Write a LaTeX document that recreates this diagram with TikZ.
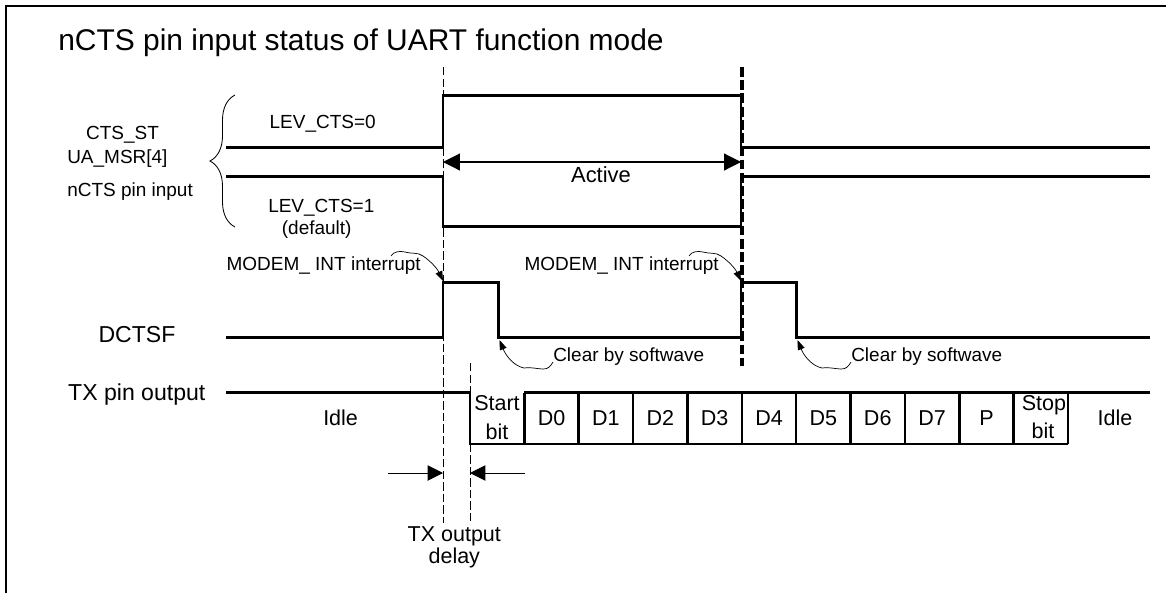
\documentclass[tikz,border=0pt]{standalone}
\usepackage{fontspec}
\setmainfont{Liberation Sans}
\usetikzlibrary{arrows.meta}
\usetikzlibrary{positioning}
\usetikzlibrary{decorations.pathreplacing}
\tikzset{
    signal/.style={
        draw=black,
        line width=1.8pt
    },
    guide/.style={
        draw=black,
        line width=0.7pt,
        dash pattern=on 6pt off 2.2pt
    },
    bold guide/.style={
        draw=black,
        line width=2.2pt,
        dash pattern=on 7pt off 2.4pt
    },
    label/.style={
        anchor=base,
        inner sep=0pt,
        font=\fontsize{13.5pt}{16pt}\selectfont
    },
    big label/.style={
        label,
        font=\fontsize{16.4pt}{19pt}\selectfont
    },
    bit label/.style={
        label,
        font=\fontsize{15.3pt}{18pt}\selectfont
    },
    span arrow/.style={
        {Triangle[length=12pt,width=12pt]}-{Triangle[length=12pt,width=12pt]},
        line width=0.8pt
    },
    delay arrow/.style={
        -{Triangle[length=11pt,width=11pt]},
        line width=0.7pt
    },
    callout/.style={
        -{Triangle[length=7pt,width=5pt]},
        line width=0.5pt
    }
}

\begin{document}
\begin{tikzpicture}[x=0.025cm, y=-0.025cm]
    \useasboundingbox (0,0) rectangle (1166,593);

    % frame (only top and left edges show)
    \draw[line width=1.6pt] (6,593) -- (6,6) -- (1166,6);

    \node[label, anchor=base west, font=\fontsize{21.3pt}{25pt}\selectfont] (title) at (58,50)
        {nCTS pin input status of UART function mode};

    % guide lines
    \draw[guide] (443,67) -- (443,523);
    \draw[guide] (470,363) -- (470,523);
    \draw[bold guide] (742,67) -- (742,366);

    % CTS_ST / nCTS pin input
    \node[label] (cts) at (122.5,139.5) {CTS\_ST};
    \node[label, anchor=base west] (msr) at (67,163) {UA\_MSR[4]};
    \node[label, anchor=base west] (pin) at (67,196) {nCTS pin input};
    \draw[line width=0.6pt, decorate, decoration={brace, amplitude=6.25mm}]
        (235,227) -- (235,95);

    \draw[signal] (226,147.5) -- (443,147.5) -- (443,95.5) -- (741,95.5) -- (741,147.5) -- (1150,147.5);
    \draw[signal] (226,176.5) -- (443,176.5) -- (443,226.5) -- (741,226.5) -- (741,176.5) -- (1150,176.5);

    \node[label] (lev0) at (322.7,128.3) {LEV\_CTS=0};
    \node[label] (lev1) at (321.3,212.7) {LEV\_CTS=1};
    \node[label] (dflt) at (316.7,234) {(default)};

    \coordinate (act-l) at (443,162);
    \coordinate (act-r) at (741,162);
    \draw[span arrow] (act-l) -- (act-r);
    \node[label, font=\fontsize{15.6pt}{18pt}\selectfont] (active) at (601,182.7) {Active};

    % DCTSF
    \node[big label] (dctsf) at (137,342.3) {DCTSF};
    \draw[signal] (226,337.5) -- (443,337.5) -- (443,282.5) -- (498.5,282.5) -- (498.5,337.5)
        -- (741,337.5) -- (741,282.5) -- (796.5,282.5) -- (796.5,337.5) -- (1150,337.5);

    \node[label, anchor=base east] (int1) at (421,270) {MODEM\_ INT interrupt};
    \node[label, anchor=base east] (int2) at (719,270) {MODEM\_ INT interrupt};
    \coordinate (rise1) at (443,281);
    \coordinate (rise2) at (741,281);
    \draw[callout] (391,256) .. controls (394,251) and (400,251) .. (405,252)
        .. controls (411,254) and (418,252) .. (423,256)
        .. controls (432,262) and (438,270) .. (rise1);
    \draw[callout] (689,256) .. controls (692,251) and (698,251) .. (703,252)
        .. controls (709,254) and (716,252) .. (721,256)
        .. controls (730,262) and (736,270) .. (rise2);

    \node[label, anchor=base west] (clr1) at (553,361.7) {Clear by softwave};
    \node[label, anchor=base west] (clr2) at (851,361.7) {Clear by softwave};
    \coordinate (fall1) at (499.5,340);
    \coordinate (fall2) at (797.5,340);
    \draw[callout] (553,362) .. controls (550,367) and (548,369) .. (543,369)
        .. controls (537,369) and (533,367) .. (524,368)
        .. controls (514,366) and (506,356) .. (fall1);
    \draw[callout] (851,362) .. controls (848,367) and (846,369) .. (841,369)
        .. controls (835,369) and (831,367) .. (822,368)
        .. controls (812,366) and (804,356) .. (fall2);

    % TX pin output
    \node[big label] (txpin) at (136.8,400) {TX pin output};
    \draw[signal] (226,392.5) -- (470,392.5) -- (470,444) -- (1068,444);
    \draw[signal] (524.4,392.5) -- (1150,392.5);
    \foreach \k in {1,...,11}
        \draw[signal] ({470+54.36*\k},392.5) -- ({470+54.36*\k},444);

    \node[bit label] (start1) at (497,410.7) {Start};
    \node[bit label] (start2) at (497,439) {bit};
    \foreach \name [count=\k] in {D0,D1,D2,D3,D4,D5,D6,D7,P}
        \node[bit label] (bit\k) at ({470+54.36*\k+27.2},425) {\name};
    \node[bit label] (stop1) at (1044,410) {Stop};
    \node[bit label] (stop2) at (1043,438.5) {bit};

    \node[bit label] (idle1) at (340.6,425) {Idle};
    \node[bit label] (idle2) at (1115,425) {Idle};

    % TX output delay
    \coordinate (dl-a) at (388,473);
    \coordinate (dl-b) at (443,473);
    \coordinate (dr-a) at (525,473);
    \coordinate (dr-b) at (470,473);
    \draw[delay arrow] (dl-a) -- (dl-b);
    \draw[delay arrow] (dr-a) -- (dr-b);
    \node[bit label] (txout) at (454.3,541.7) {TX output};
    \node[bit label] (delay) at (454.3,563) {delay};

\end{tikzpicture}
\end{document}
